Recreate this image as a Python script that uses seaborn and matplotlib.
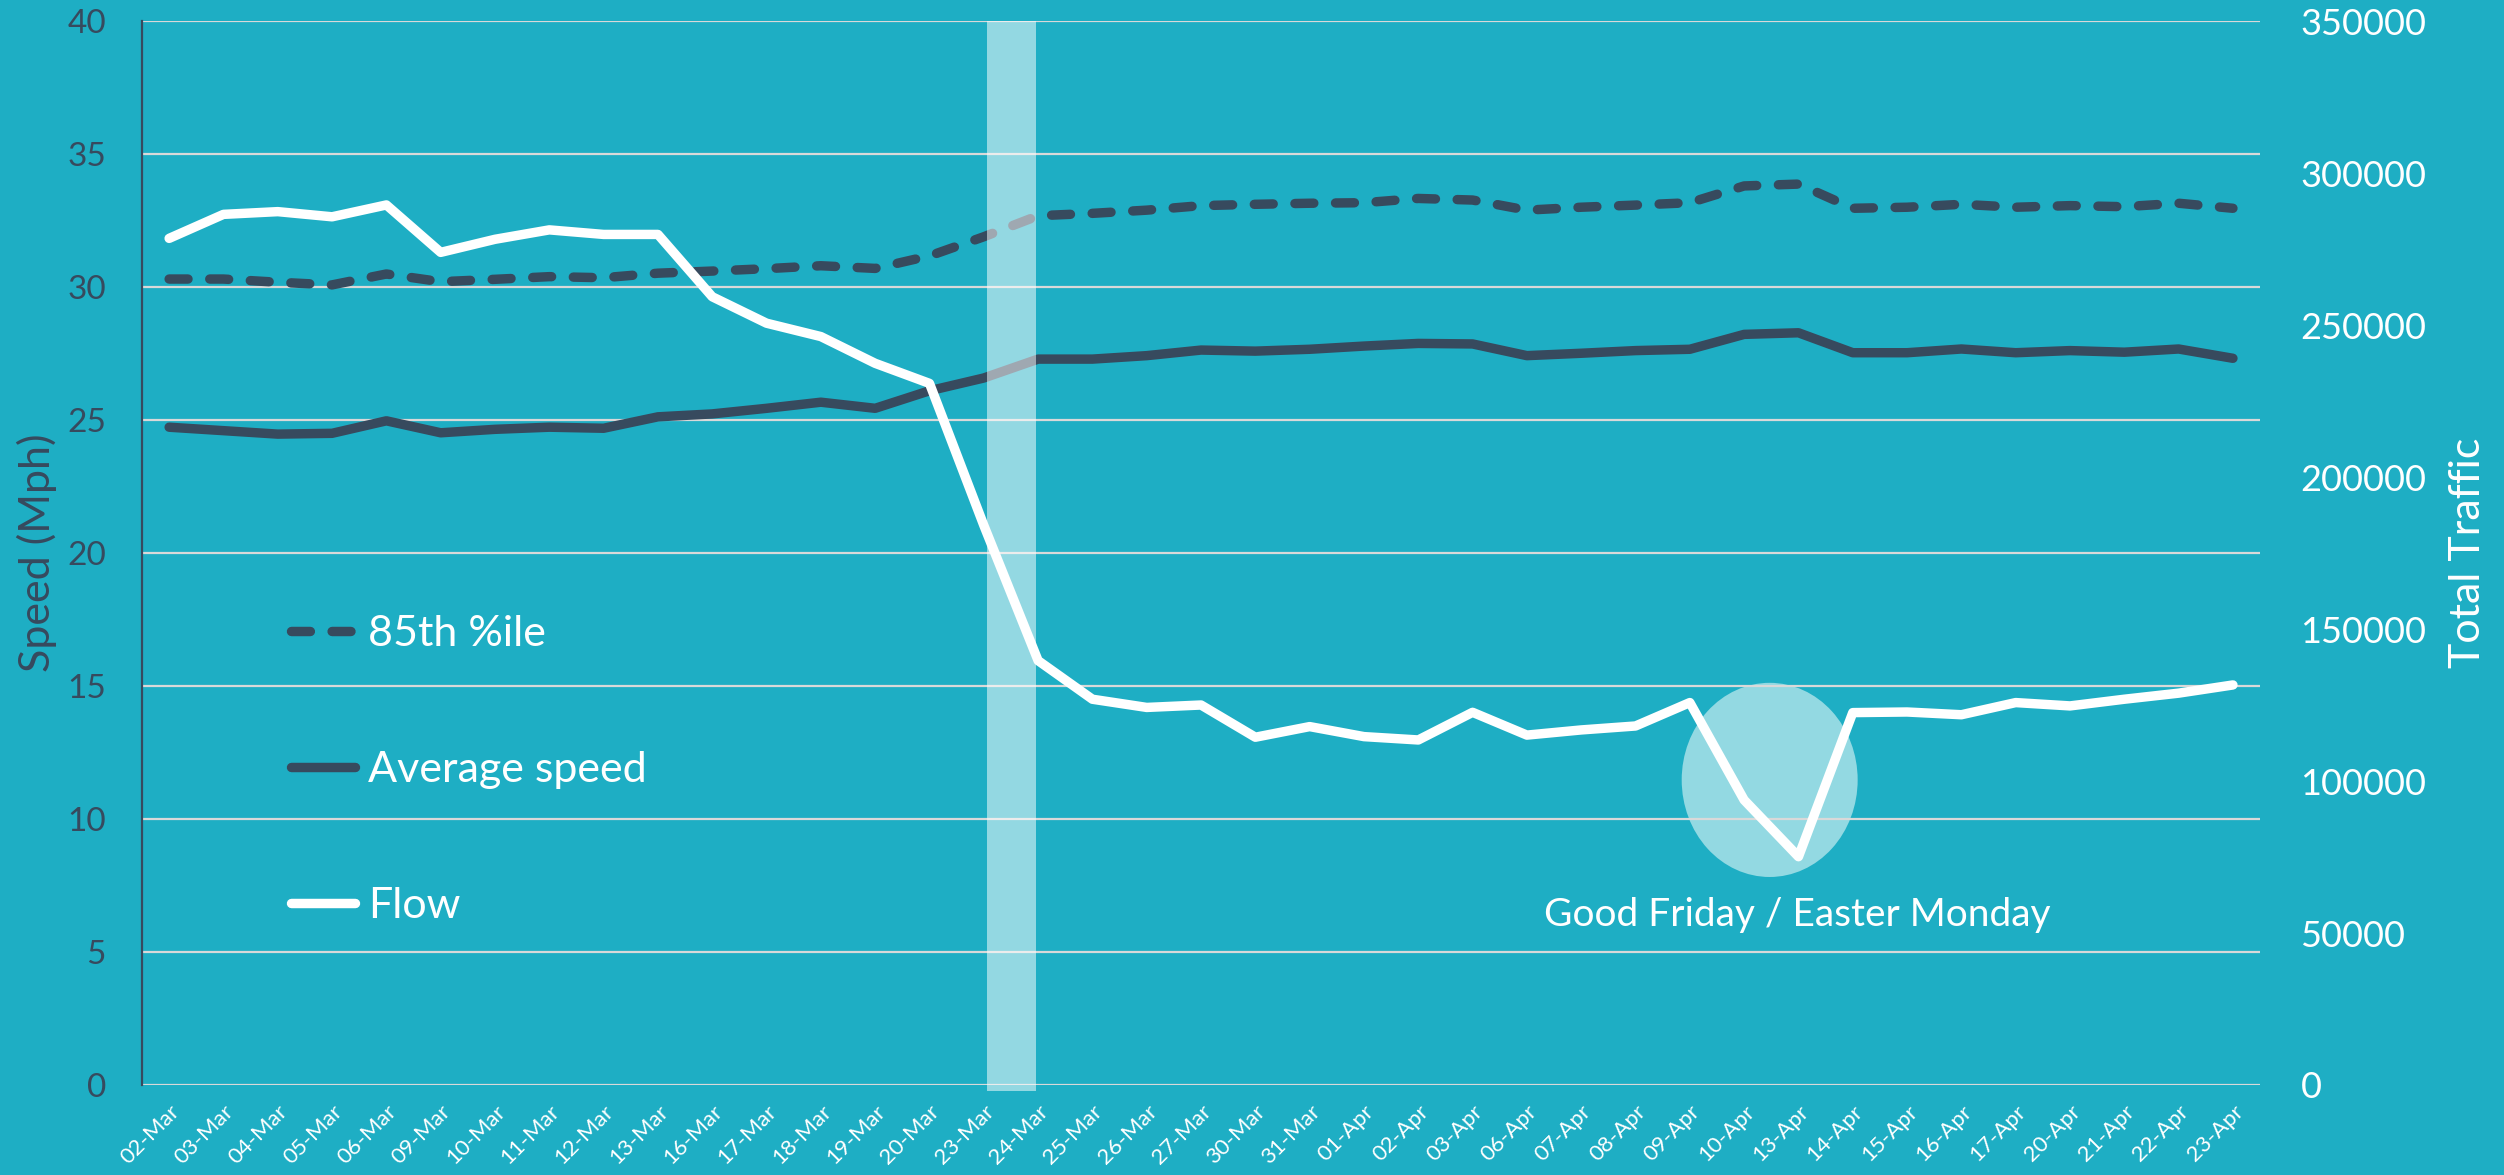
import numpy as np
import pandas as pd
import matplotlib
matplotlib.use("Agg")
import matplotlib.pyplot as plt
import seaborn as sns
from matplotlib.lines import Line2D
from matplotlib.patches import Ellipse

# ---------------- data ----------------
dates = ["02-Mar", "03-Mar", "04-Mar", "05-Mar", "06-Mar", "09-Mar", "10-Mar", "11-Mar",
         "12-Mar", "13-Mar", "16-Mar", "17-Mar", "18-Mar", "19-Mar", "20-Mar", "23-Mar",
         "24-Mar", "25-Mar", "26-Mar", "27-Mar", "30-Mar", "31-Mar", "01-Apr", "02-Apr",
         "03-Apr", "06-Apr", "07-Apr", "08-Apr", "09-Apr", "10-Apr", "13-Apr", "14-Apr",
         "15-Apr", "16-Apr", "17-Apr", "20-Apr", "21-Apr", "22-Apr", "23-Apr"]

speed_85th = [30.30, 30.30, 30.18, 30.08, 30.49, 30.20, 30.29, 30.39, 30.35, 30.52,
              30.60, 30.69, 30.80, 30.70, 31.17, 31.89, 32.68, 32.77, 32.89, 33.06,
              33.11, 33.15, 33.17, 33.33, 33.27, 32.89, 33.00, 33.08, 33.17, 33.80,
              33.87, 32.96, 33.00, 33.11, 33.00, 33.06, 33.02, 33.15, 32.96]

speed_avg = [24.73, 24.60, 24.47, 24.50, 24.97, 24.52, 24.65, 24.73, 24.69, 25.12,
             25.23, 25.44, 25.67, 25.44, 26.10, 26.58, 27.29, 27.29, 27.42, 27.63,
             27.59, 27.66, 27.78, 27.88, 27.86, 27.42, 27.51, 27.61, 27.66, 28.22,
             28.28, 27.53, 27.53, 27.67, 27.53, 27.61, 27.55, 27.67, 27.32]

flow = [278500, 286400, 287300, 285600, 289500, 273900, 278200, 281300, 279800, 279800,
        259300, 250600, 246200, 237400, 230800, 184100, 139600, 126900, 124200, 125000,
        114400, 117900, 114600, 113500, 122600, 115100, 116800, 118100, 125800, 93750,
        75100, 122500, 122700, 121800, 125800, 124700, 126900, 128900, 131600]

speed_ticks = list(range(0, 45, 5))
flow_ticks = list(range(0, 350001, 50000))
legend_labels = ["85th %ile", "Average speed", "Flow"]
annotation = "Good Friday / Easter Monday"

# ---------------- style ----------------
BG = "#1EAEC4"
DARK = "#374A5E"
GRID = "#D9D9D9"
BAND = "#93D9E2"
LW = 6.8
DASH = (0, (2.0, 2.3))

sns.set_style("white")
plt.rcParams['font.family'] = ['Lato', 'DejaVu Sans']

df = pd.DataFrame({"idx": np.arange(len(dates)), "date": dates,
                   "p85": speed_85th, "avg": speed_avg, "flow": flow})

fig = plt.figure(figsize=(25.04, 11.75), dpi=100, facecolor=BG)
ax = fig.add_axes([0.0567, 0.0766, 0.8459, 0.9055])
ax.set_facecolor(BG)
ax2 = ax.twinx()

sns.lineplot(data=df, x="idx", y="p85", ax=ax, color=DARK, linewidth=LW,
             linestyle=DASH, dash_capstyle="round", solid_joinstyle="round", zorder=3)
sns.lineplot(data=df, x="idx", y="avg", ax=ax, color=DARK, linewidth=LW,
             solid_capstyle="round", solid_joinstyle="round", zorder=3)
sns.lineplot(data=df, x="idx", y="flow", ax=ax2, color="white", linewidth=LW,
             solid_capstyle="round", solid_joinstyle="round", zorder=3)

ax.set_xlim(-0.5, len(dates) - 0.5)
ax.set_ylim(0, 40)
ax2.set_ylim(0, 350000)
ax.set_yticks(speed_ticks)
ax2.set_yticks(flow_ticks)
ax.set_xticks(df["idx"])
ax.set_xticklabels(dates, rotation=45, ha="right", rotation_mode="anchor",
                   color="white", fontsize=16)
ax.set_yticklabels([str(t) for t in speed_ticks], color=DARK, fontsize=24)
ax2.set_yticklabels([str(t) for t in flow_ticks], color="white", fontsize=26)
ax.tick_params(axis="x", length=0, pad=12)
ax.tick_params(axis="y", length=0, pad=26)
ax2.tick_params(axis="y", length=0, pad=29)

ax.set_xlabel("")
ax.set_ylabel("")
ax2.set_xlabel("")
ax2.set_ylabel("")

ax.grid(axis="y", color=GRID, linewidth=1.6)
ax.grid(axis="x", visible=False)
ax.set_axisbelow(True)
ax2.grid(False)

for s in ["top", "right", "bottom"]:
    ax.spines[s].set_visible(False)
    ax2.spines[s].set_visible(False)
ax2.spines["left"].set_visible(False)
ax.spines["left"].set_color(DARK)
ax.spines["left"].set_linewidth(1.6)

# axis titles
ax.text(-0.0496, 0.5, "Speed (Mph)", transform=ax.transAxes, rotation=90,
        ha="center", va="center", color=DARK, fontsize=31)
ax.text(1.098, 0.5, "Total Traffic", transform=ax.transAxes, rotation=90,
        ha="center", va="center", color="white", fontsize=31)

# holiday ellipse + annotation
ax.add_patch(Ellipse((29.47, 11.47), width=3.24, height=7.3, facecolor=BAND,
                     edgecolor="none", zorder=0.3))
ax.text(29.98, 6.4, annotation, ha="center", va="center", color="white", fontsize=28)

# lockdown band
ax2.axvspan(15.05, 15.97, ymin=-0.006, ymax=1.0, facecolor="white", alpha=0.52,
            linewidth=0, zorder=10, clip_on=False)

# legend
handles = [Line2D([], [], color=DARK, lw=LW, linestyle=DASH, dash_capstyle="round"),
           Line2D([], [], color=DARK, lw=LW, solid_capstyle="round"),
           Line2D([], [], color="white", lw=LW, solid_capstyle="round")]
leg = ax2.legend(handles, legend_labels, loc="center left", bbox_to_anchor=(0.0703, 0.296),
                 frameon=False, fontsize=31, handlelength=1.5, handletextpad=0.3,
                 labelspacing=2.28, borderpad=0, borderaxespad=0)
for t in leg.get_texts():
    t.set_color("white")

fig.savefig("out.png", dpi=100, facecolor=BG)
